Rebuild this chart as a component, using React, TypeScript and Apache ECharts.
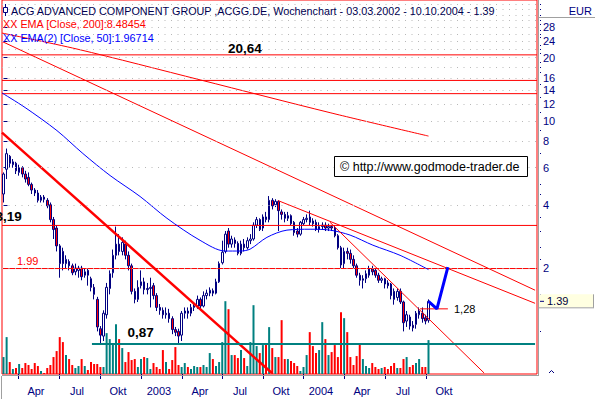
import React, { useEffect, useRef } from "react";
import * as echarts from "echarts";

// Weekly candles 03.03.2002 - 10.10.2004, each [open, close, low, high] in EUR
const candles: number[][] = [
  [4.5, 5.6, 4.1, 5.7], [5.9, 7.0, 5.3, 7.4], [6.8, 6.3, 6.0, 6.9], [6.2, 6.4, 6.0, 6.6], [6.3, 5.8, 5.6, 6.4],
  [5.7, 6.0, 5.5, 6.2], [6.0, 5.6, 5.4, 6.1], [5.6, 5.3, 5.1, 5.8], [5.4, 5.0, 4.9, 5.7], [5.0, 4.7, 4.5, 5.1],
  [4.7, 4.55, 4.4, 4.8], [4.55, 4.2, 4.1, 4.7], [4.2, 4.35, 4.1, 4.45], [4.35, 4.25, 4.1, 4.45], [4.2, 3.95, 3.85, 4.3],
  [4.0, 3.4, 3.3, 4.1], [3.4, 3.05, 2.75, 3.5], [3.1, 2.55, 2.4, 3.2], [2.55, 2.1, 1.8, 2.6], [2.4, 2.1, 1.95, 2.5],
  [2.1, 2.2, 2.0, 2.3], [2.15, 2.05, 1.95, 2.2], [2.05, 1.9, 1.85, 2.1], [1.92, 2.0, 1.85, 2.1], [1.95, 2.0, 1.8, 2.05],
  [2.0, 1.82, 1.75, 2.05], [1.85, 1.92, 1.8, 2.0], [1.95, 1.85, 1.65, 2.0], [1.78, 1.62, 1.55, 1.82], [1.62, 1.5, 1.42, 1.68],
  [1.42, 1.05, 1.0, 1.46], [1.03, 0.96, 0.88, 1.06], [0.95, 1.22, 0.9, 1.26], [1.2, 1.62, 1.15, 1.7], [1.6, 1.88, 1.5, 1.95],
  [1.9, 2.3, 1.8, 2.45], [2.3, 2.6, 2.2, 3.15], [2.6, 2.4, 2.3, 2.9], [2.4, 2.65, 2.3, 2.8], [2.6, 2.3, 2.2, 2.7],
  [2.3, 2.05, 1.95, 2.4], [2.05, 1.55, 1.5, 2.1], [1.55, 1.42, 1.36, 1.6], [1.42, 1.62, 1.38, 1.75], [1.65, 1.72, 1.6, 1.95],
  [1.72, 1.58, 1.5, 1.8], [1.58, 1.6, 1.5, 1.7], [1.6, 1.62, 1.3, 1.8], [1.65, 1.48, 1.42, 1.7], [1.48, 1.3, 1.25, 1.52],
  [1.3, 1.26, 1.2, 1.35], [1.26, 1.2, 1.15, 1.3], [1.2, 1.22, 1.15, 1.3], [1.22, 1.15, 1.1, 1.28], [1.15, 1.02, 0.97, 1.18],
  [1.02, 0.99, 0.95, 1.05], [1.0, 0.95, 0.87, 1.03], [0.96, 1.22, 0.9, 1.25], [1.22, 1.25, 1.15, 1.3], [1.25, 1.22, 1.15, 1.3],
  [1.22, 1.3, 1.18, 1.35], [1.3, 1.32, 1.25, 1.38], [1.32, 1.42, 1.28, 1.48], [1.42, 1.32, 1.28, 1.45], [1.32, 1.48, 1.3, 1.55],
  [1.48, 1.52, 1.42, 1.58], [1.52, 1.57, 1.47, 1.62], [1.56, 1.52, 1.47, 1.6], [1.52, 1.72, 1.5, 1.78], [1.72, 2.1, 1.7, 2.15],
  [2.12, 2.38, 2.08, 2.7], [2.4, 2.9, 2.35, 3.0], [3.0, 2.6, 2.5, 3.1], [2.6, 2.75, 2.5, 2.85], [2.72, 2.62, 2.5, 2.8],
  [2.62, 2.35, 2.3, 2.68], [2.35, 2.6, 2.3, 2.7], [2.6, 2.5, 2.4, 2.75], [2.5, 2.7, 2.45, 2.8], [2.7, 2.75, 2.6, 2.9],
  [2.75, 3.2, 2.7, 3.3], [3.2, 3.4, 3.1, 3.5], [3.4, 3.05, 3.0, 3.45], [3.1, 3.5, 3.0, 3.6], [3.5, 3.4, 3.3, 3.7],
  [3.4, 4.2, 3.3, 4.4], [4.2, 3.95, 3.8, 4.3], [4.0, 4.15, 3.9, 4.25], [4.15, 3.75, 3.0, 4.2], [3.7, 3.6, 3.4, 3.8],
  [3.6, 3.45, 3.3, 3.7], [3.45, 3.55, 3.35, 3.7], [3.55, 3.25, 3.2, 3.6], [3.3, 2.95, 2.85, 3.35], [3.0, 2.9, 2.8, 3.1],
  [2.9, 3.3, 2.85, 3.35], [3.25, 3.4, 3.2, 3.5], [3.4, 3.45, 3.3, 3.6], [3.5, 3.3, 3.2, 3.75], [3.35, 3.25, 3.15, 3.45],
  [3.3, 3.05, 3.0, 3.4], [3.05, 3.15, 2.95, 3.3], [3.15, 3.2, 3.05, 3.3], [3.2, 3.1, 3.0, 3.3], [3.1, 3.15, 3.0, 3.25],
  [3.15, 3.1, 3.0, 3.2], [3.1, 2.85, 2.8, 3.2], [2.85, 2.5, 2.45, 2.9], [2.5, 2.07, 2.0, 2.55], [2.1, 2.4, 2.0, 2.5],
  [2.4, 2.35, 2.2, 2.5], [2.35, 2.2, 2.1, 2.45], [2.2, 2.05, 2.0, 2.3], [2.05, 1.85, 1.8, 2.1], [1.85, 1.75, 1.65, 1.9],
  [1.75, 1.78, 1.6, 1.85], [1.78, 1.88, 1.7, 1.95], [1.85, 1.98, 1.8, 2.05], [1.98, 1.92, 1.85, 2.05], [1.95, 1.85, 1.8, 2.0],
  [1.85, 1.75, 1.7, 1.9], [1.75, 1.78, 1.7, 1.82], [1.78, 1.68, 1.6, 1.8], [1.7, 1.65, 1.6, 1.75], [1.68, 1.48, 1.42, 1.7],
  [1.55, 1.42, 1.34, 1.6], [1.45, 1.55, 1.4, 1.6], [1.55, 1.38, 1.35, 1.6], [1.38, 1.1, 1.0, 1.4], [1.12, 1.2, 1.05, 1.25],
  [1.17, 1.06, 1.02, 1.2], [1.07, 1.04, 1.0, 1.12], [1.08, 1.22, 1.03, 1.25], [1.2, 1.25, 1.15, 1.3], [1.22, 1.15, 1.1, 1.3],
  [1.16, 1.12, 1.08, 1.2], [1.13, 1.39, 1.1, 1.42],
];

// Weekly volume (relative units)
const volumes: number[] = [
  17, 37, 12, 5, 6, 10, 6, 11, 9, 5, 11, 8, 3, 1, 6, 9, 17, 23, 37, 32,
  19, 15, 9, 6, 8, 15, 8, 4, 12, 10, 10, 7, 7, 41, 35, 31, 50, 35, 26, 12,
  22, 14, 15, 7, 15, 17, 16, 5, 11, 7, 5, 24, 12, 5, 14, 27, 9, 7, 11, 7,
  5, 8, 7, 7, 9, 7, 21, 15,
  8, 12, 32, 73, 65, 19, 19, 16, 24, 16, 8, 32, 69, 28, 21, 29, 31, 47, 26, 17,
  17, 54, 15, 15, 13, 11, 8, 3, 7, 19, 42, 28, 21, 24, 52, 35, 19, 22, 29, 17,
  62, 56, 42, 17, 9, 18, 31, 15, 8, 6, 11, 7, 5, 6, 7, 5, 8, 11, 6, 6,
  15, 17, 7, 9, 11, 15, 7, 7, 34,
];

// Moving averages: [week index, EUR]
const ema200: number[][] = [[-0.48, 26.2], [23.5, 22.0], [62.9, 15.7], [104.5, 10.96], [136, 8.48454]];
const ema50: number[][] = [
  [-0.48, 13.6], [6.9, 11.6], [17.1, 9.01], [25.4, 7.01], [34.1, 5.51], [43.7, 4.38], [52.3, 3.45],
  [62.9, 2.71], [70.9, 2.41], [75.7, 2.41], [78.9, 2.46], [84.3, 2.8], [90.7, 3.03], [98.1, 3.06],
  [104.5, 3.03], [110.9, 2.87], [118.2, 2.57], [126.9, 2.3], [136, 1.96714],
];

// Drawn analysis lines: [week index, EUR]
const horizontalLevels = [20.64, 15.6, 13.5, 3.19, 1.99];
const trendMain: number[][] = [[-0.48, 8.81], [85.9, 0.634]];
const trendUpper: number[][] = [[-0.48, 23.9], [170.1, 1.57]];
const trendTop2: number[][] = [[87.8, 4.19], [170.1, 1.36]];
const trendDown2004: number[][] = [[104.5, 3.3], [153.8, 0.634]];
const support087: number[][] = [[28.3, 0.87], [170.1, 0.87]];
const target128: number[][] = [[133.3, 1.28], [142.2, 1.28]];
const projection: number[][] = [[136, 1.39], [138.7, 1.28], [142.2, 2.02]];

// Axes
const tickWeeks = [4.64, 17.76, 30.88, 44.0, 57.12, 69.92, 83.04, 95.84, 108.96, 122.08, 135.2];
const tickLabels = ["Apr", "Jul", "Okt", "2003", "Apr", "Jul", "Okt", "2004", "Apr", "Jul", "Okt"];
const yLabels = [2, 4, 6, 8, 10, 12, 14, 16, 20, 24, 28];
const yMinor = [1, 1.5, 2.2, 2.5, 3, 3.5, 4.5, 5, 7, 9, 11, 13, 15, 17, 18, 19, 21, 22, 23, 25, 26, 27, 29, 30, 32, 34, 36];
const gridRows = [2, 4, 6, 8, 10, 12, 14, 16, 18, 20, 22, 24, 26, 28, 30, 32, 34, 36];
const lastClose = 1.39;

const FONT = '"Liberation Sans", Arial, sans-serif';
const NAVY = "#000080";
const RED = "#ff0000";
const TEAL = "#008080";
const BLUE = "#0000ff";
const X_MIN = -0.48;
const X_MAX = 170.72;
const Y_MIN = 0.6273;
const Y_MAX = 37.63;
const LABEL_SHIFT = 5.75;

const lineSeries = (name: string, data: number[][], color: string, width: number, extra: any = {}) => ({
  type: "line",
  name,
  data,
  xAxisIndex: 0,
  yAxisIndex: 0,
  symbol: "none",
  showSymbol: false,
  silent: true,
  lineStyle: { color, width },
  itemStyle: { color },
  ...extra,
});

function buildOption(): any {
  const labelWeeks = tickWeeks.map((w) => w + LABEL_SHIFT);
  return {
    animation: false,
    backgroundColor: "#ffffff",
    grid: {
      left: 2,
      right: 58,
      top: -1,
      bottom: 25,
      show: true,
      borderColor: RED,
      borderWidth: 1,
      backgroundColor: "transparent",
    },
    xAxis: {
      type: "value",
      min: X_MIN,
      max: X_MAX,
      axisLine: { show: false },
      splitLine: { show: false },
      axisTick: { show: true, customValues: tickWeeks, length: 5, lineStyle: { color: NAVY } },
      axisLabel: {
        customValues: labelWeeks,
        color: NAVY,
        fontSize: 11,
        fontFamily: FONT,
        margin: 11,
        formatter: (v: number) => {
          let best = 0;
          labelWeeks.forEach((w, i) => {
            if (Math.abs(w - v) < Math.abs(labelWeeks[best] - v)) best = i;
          });
          return tickLabels[best];
        },
      },
    },
    yAxis: [
      {
        type: "log",
        min: Y_MIN,
        max: Y_MAX,
        position: "right",
        offset: 3,
        axisLine: { show: false },
        splitLine: { show: false },
        axisTick: { show: true, customValues: yLabels, length: 4, lineStyle: { color: NAVY } },
        axisLabel: {
          customValues: yLabels,
          color: NAVY,
          fontSize: 11,
          fontFamily: FONT,
          margin: 3,
          formatter: (v: number) => String(Math.round(v * 100) / 100),
        },
      },
      {
        type: "log",
        min: Y_MIN,
        max: Y_MAX,
        position: "right",
        offset: 3,
        axisLine: { show: false },
        splitLine: { show: false },
        axisLabel: { show: false },
        axisTick: { show: true, customValues: yMinor, length: 1, lineStyle: { color: NAVY } },
      },
      { type: "value", min: 0, max: 375, show: false },
    ],
    series: [
      lineSeries("grid", [[X_MIN, 2], [X_MAX, 2]], "transparent", 0, {
        lineStyle: { opacity: 0, width: 0 },
        markLine: {
          silent: true,
          symbol: ["none", "none"],
          label: { show: false },
          lineStyle: { color: "#b8b8b8", type: [1, 5.5], width: 1 },
          data: gridRows.map((v) => ({ yAxis: v })),
        },
      }),
      {
        type: "bar",
        name: "Volumen",
        xAxisIndex: 0,
        yAxisIndex: 2,
        barWidth: 2,
        silent: true,
        data: volumes.map((v, i) => ({
          value: [i, v],
          itemStyle: { color: candles[i][1] >= candles[i][0] ? TEAL : RED },
        })),
      },
      ...horizontalLevels.map((v) => lineSeries("level " + v, [[X_MIN, v], [X_MAX, v]], RED, 1)),
      lineSeries("EMA [Close, 200]", ema200, RED, 1, { smooth: 0.3 }),
      lineSeries("EMA(2) [Close, 50]", ema50, BLUE, 1, { smooth: 0.3 }),
      {
        type: "candlestick",
        name: "ACGG.DE",
        xAxisIndex: 0,
        yAxisIndex: 0,
        barWidth: 2,
        silent: true,
        data: candles.map((c, i) => [i, c[0], c[1], c[2], c[3]]),
        itemStyle: {
          color: "#ffffff",
          color0: RED,
          borderColor: NAVY,
          borderColor0: NAVY,
          borderWidth: 1,
        },
      },
      lineSeries("trend 2002", trendMain, RED, 2.5),
      lineSeries("trend upper", trendUpper, RED, 1),
      lineSeries("trend 2003 top", trendTop2, RED, 1),
      lineSeries("trend 2004", trendDown2004, RED, 1),
      lineSeries("support 0.87", support087, TEAL, 2),
      lineSeries("target 1.28", target128, RED, 1),
      lineSeries("projection", projection, BLUE, 3),
    ],
  };
}

const txt = (text: string, x: number, y: number, size: number, color: string, bold = false, align = "left") => ({
  type: "text",
  x,
  y,
  z: 100,
  silent: true,
  style: {
    text,
    fill: color,
    font: `${bold ? "bold " : ""}${size}px ${FONT}`,
    textAlign: align,
    align,
    textVerticalAlign: "middle",
    verticalAlign: "middle",
  },
});

const ln = (x1: number, y1: number, x2: number, y2: number, color: string, w = 1) => ({
  type: "line",
  z: 100,
  silent: true,
  shape: { x1, y1, x2, y2 },
  style: { stroke: color, lineWidth: w },
});

function buildGraphics(yOf: (v: number) => number): any[] {
  const yTag = yOf(lastClose);
  return [
    // frame shadows / right panel
    ln(538.5, 0, 538.5, 376, "#a0a0a0"),
    ln(2, 375.5, 539, 375.5, "#a0a0a0"),
    ln(1.5, 376, 1.5, 399, "#a0a0a0"),
    ln(539, 17.5, 595, 17.5, "#a0a0a0"),
    txt("EUR", 592, 10.5, 11, NAVY, false, "right"),
    // last price tag
    { type: "rect", z: 99, silent: true, shape: { x: 539, y: yTag - 7, width: 54, height: 13 }, style: { fill: "#ffffe1", stroke: "none" } },
    ln(593.5, yTag - 7, 593.5, yTag + 6.5, "#a0a0a0"),
    ln(539, yTag + 6.5, 594, yTag + 6.5, "#a0a0a0"),
    ln(540, yTag, 544, yTag, NAVY),
    txt(String(lastClose), 547, yTag, 11, "#000040"),
    { type: "polyline", z: 100, silent: true, shape: { points: [[549, 373], [551.5, 370.5], [554, 373]] }, style: { stroke: NAVY, fill: "none", lineWidth: 1 } },
    // title icon
    ln(5.5, 4, 5.5, 16, NAVY),
    { type: "rect", z: 100, silent: true, shape: { x: 3.5, y: 7.5, width: 4, height: 5 }, style: { fill: "#ffffff", stroke: NAVY, lineWidth: 1 } },
    txt("ACG ADVANCED COMPONENT GROUP ,ACGG.DE, Wochenchart - 03.03.2002 - 10.10.2004 - 1.39", 11, 10.5, 10.8, "#000050"),
    txt("XX EMA [Close, 200]:8.48454", 3, 24, 10.8, RED),
    txt("XX EMA(2) [Close, 50]:1.96714", 3, 37.5, 10.8, BLUE),
    // annotations
    txt("20,64", 228, yOf(20.64) - 6.4, 13.5, "#000000", true),
    txt("3,19", -4.5, yOf(3.19) - 9, 13.5, "#000000", true),
    txt("1.99", 17, yOf(1.99) - 8, 11, RED),
    txt("0,87", 127.5, yOf(0.87) - 11.6, 13.5, "#000000", true),
    txt("1,28", 454, yOf(1.28) + 0.6, 11, "#000000"),
    // copyright box
    { type: "rect", z: 100, silent: true, shape: { x: 334.5, y: 156.5, width: 193, height: 20 }, style: { fill: "#ffffff", stroke: "#000000", lineWidth: 1 } },
    txt("© http://www.godmode-trader.de", 340, 166.5, 12.5, "#000000"),
  ];
}

export default function App() {
  const ref = useRef<HTMLDivElement>(null);
  useEffect(() => {
    const el = ref.current;
    if (!el) return;
    const chart = echarts.init(el, undefined, { renderer: "svg" });
    chart.setOption(buildOption());
    const yOf = (v: number) => chart.convertToPixel({ yAxisIndex: 0 } as any, v) as unknown as number;
    chart.setOption({ graphic: buildGraphics(yOf) });
    return () => chart.dispose();
  }, []);
  return (
    <div
      ref={ref}
      style={{ position: "fixed", left: 0, top: 0, width: 595, height: 399, background: "#ffffff", overflow: "hidden" }}
    />
  );
}
